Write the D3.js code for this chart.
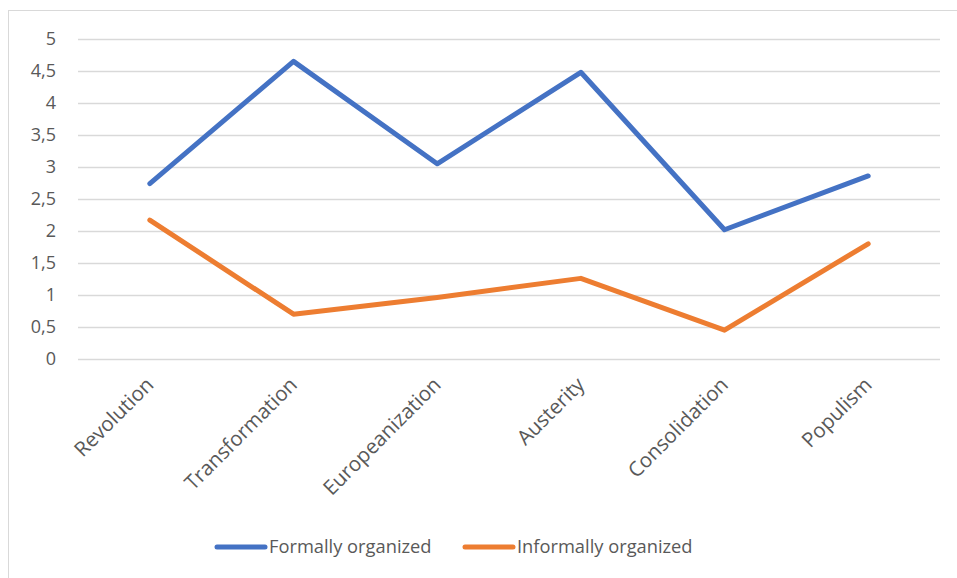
<!DOCTYPE html>
<html>
<head>
<meta charset="utf-8">
<script src="https://cdn.jsdelivr.net/npm/d3@7"></script>
<style>
  html, body { margin: 0; padding: 0; background: #fff; }
  svg { display: block; }
  text { font-family: "Open Sans", "Liberation Sans", sans-serif; fill: #595959; }
</style>
</head>
<body>
<svg id="chart" width="957" height="578"></svg>
<script>
// Phases and mean scores per organisation type
const categories = ["Revolution", "Transformation", "Europeanization", "Austerity", "Consolidation", "Populism"];
const formallyOrganized = [2.74, 4.65, 3.05, 4.48, 2.02, 2.86];
const informallyOrganized = [2.17, 0.70, 0.96, 1.26, 0.45, 1.80];
const yTicks = [0, 0.5, 1, 1.5, 2, 2.5, 3, 3.5, 4, 4.5, 5];
const seriesNames = ["Formally organized", "Informally organized"];
const seriesColors = ["#4472C4", "#ED7D31"];

const svg = d3.select("#chart");
const W = 957, H = 578;

// Outer chart frame
svg.append("rect")
  .attr("x", 8.5).attr("y", 10.5)
  .attr("width", W + 10).attr("height", H + 10)
  .attr("fill", "#fff").attr("stroke", "#d9d9d9").attr("stroke-width", 1);

const plot = { left: 78, right: 940, top: 39, bottom: 359 };

const x = d3.scaleBand().domain(categories).range([plot.left, plot.right]);
const y = d3.scaleLinear().domain([0, 5]).range([plot.bottom, plot.top]);

// Horizontal gridlines
svg.append("g")
  .selectAll("line").data(yTicks).join("line")
  .attr("x1", plot.left).attr("x2", plot.right)
  .attr("y1", d => Math.round(y(d)) + 0.5).attr("y2", d => Math.round(y(d)) + 0.5)
  .attr("stroke", "#d9d9d9").attr("stroke-width", 1.3);

// Y axis labels (comma decimal separator)
const fmt = d => String(d).replace(".", ",");
const yAxis = d3.axisLeft(y).tickValues(yTicks).tickFormat(fmt).tickSize(0).tickPadding(0);
const yg = svg.append("g").attr("transform", `translate(${56},0)`).call(yAxis);
yg.select(".domain").remove();
yg.selectAll("text")
  .attr("font-size", 18)
  .attr("font-family", "\"Open Sans\", sans-serif")
  .attr("fill", "#595959");

// X axis labels, rotated
const xg = svg.append("g");
xg.selectAll("text").data(categories).join("text")
  .attr("text-anchor", "end")
  .attr("font-size", 20.5)
  .attr("transform", d => `translate(${x(d) + x.bandwidth() / 2 + 5},${386}) rotate(-45)`)
  .text(d => d);

// Lines
const line = d3.line()
  .x((d, i) => x(categories[i]) + x.bandwidth() / 2)
  .y(d => y(d));

[formallyOrganized, informallyOrganized].forEach((vals, k) => {
  svg.append("path")
    .datum(vals)
    .attr("d", line)
    .attr("fill", "none")
    .attr("stroke", seriesColors[k])
    .attr("stroke-width", 5)
    .attr("stroke-linejoin", "round")
    .attr("stroke-linecap", "round");
});

// Legend
const legendItems = [
  { name: seriesNames[0], color: seriesColors[0], x: 217 },
  { name: seriesNames[1], color: seriesColors[1], x: 465 }
];
const lg = svg.append("g");
legendItems.forEach(it => {
  lg.append("line")
    .attr("x1", it.x).attr("x2", it.x + 48)
    .attr("y1", 547).attr("y2", 547)
    .attr("stroke", it.color).attr("stroke-width", 5)
    .attr("stroke-linecap", "round");
  lg.append("text")
    .attr("x", it.x + 52).attr("y", 547)
    .attr("dy", "0.35em")
    .attr("font-size", 18.3)
    .text(it.name);
});
</script>
</body>
</html>
